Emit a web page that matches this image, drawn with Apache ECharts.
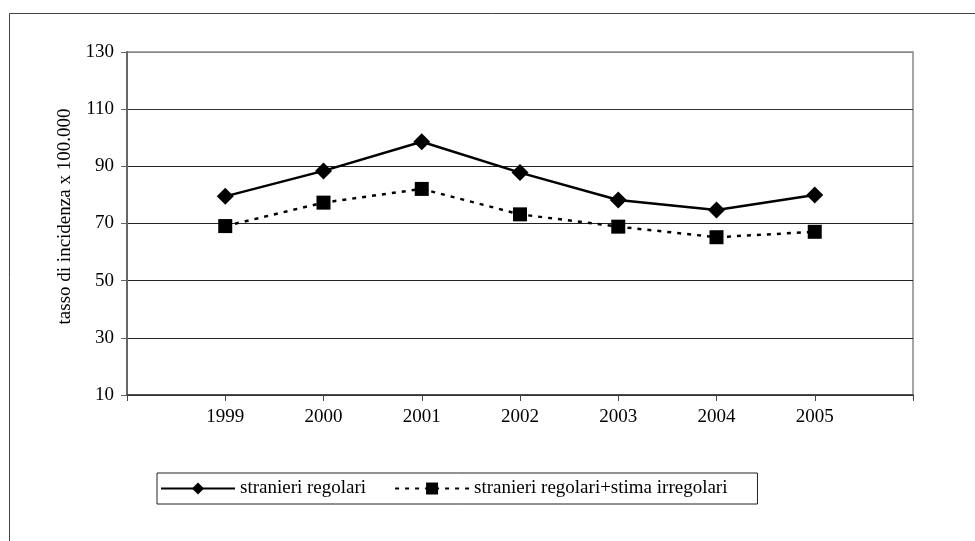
<!DOCTYPE html>
<html>
<head>
<meta charset="utf-8">
<script src="https://cdn.jsdelivr.net/npm/echarts@6/dist/echarts.min.js"></script>
<style>
  html, body { margin: 0; padding: 0; background: #fff; }
  #chart { width: 975px; height: 541px; }
</style>
</head>
<body>
<div id="chart"></div>
<script>
// Anni e tassi di incidenza (x 100.000)
const years = ['1999', '2000', '2001', '2002', '2003', '2004', '2005'];
const regolari = [79.5, 88.4, 98.6, 87.8, 78.2, 74.7, 80.0];
const conIrregolari = [69.1, 77.3, 82.1, 73.2, 68.9, 65.2, 67.1];
const yTicks = [10, 30, 50, 70, 90, 110, 130];
const seriesNames = ['stranieri regolari', 'stranieri regolari+stima irregolari'];

// empty slots at both ends of the category axis
const cats = [''].concat(years, ['']);
const pad = arr => [null].concat(arr, [null]);

const font = 'Liberation Serif, Times New Roman, serif';
const fs = 19;
const chart = echarts.init(document.getElementById('chart'), null, { renderer: 'canvas' });

chart.setOption({
  animation: false,
  backgroundColor: '#fff',
  textStyle: { fontFamily: font, color: '#000' },
  graphic: [{
    type: 'rect',
    shape: { x: 9.5, y: 13.5, width: 1000, height: 560 },
    style: { fill: 'none', stroke: '#444', lineWidth: 1 },
    silent: true
  }],
  grid: {
    left: 127, right: 62, top: 52, bottom: 146,
    show: true, borderColor: '#888', borderWidth: 1.5, backgroundColor: 'transparent'
  },
  legend: {
    left: 157, top: 473,
    padding: [6, 30, 6, 3],
    borderColor: '#222', borderWidth: 1,
    itemWidth: 74, itemHeight: 15, itemGap: 28,
    textStyle: { fontFamily: font, fontSize: fs, color: '#000' },
    data: seriesNames
  },
  xAxis: {
    type: 'category',
    data: cats,
    boundaryGap: false,
    axisLine: { lineStyle: { color: '#333', width: 1.5 } },
    axisTick: { show: true, length: 6, lineStyle: { color: '#444' } },
    axisLabel: { fontFamily: font, fontSize: fs, color: '#000', margin: 13, interval: 0 },
    splitLine: { show: false }
  },
  yAxis: {
    type: 'value',
    min: yTicks[0], max: yTicks[yTicks.length - 1], interval: 20,
    name: 'tasso di incidenza x 100.000',
    nameLocation: 'middle', nameRotate: 90, nameGap: 52,
    nameTextStyle: { fontFamily: font, fontSize: fs, color: '#000', padding: [0, 0, 0, 14] },
    axisLine: { show: true, lineStyle: { color: '#666', width: 2 } },
    axisTick: { show: true, length: 6, lineStyle: { color: '#666' } },
    axisLabel: { fontFamily: font, fontSize: fs, color: '#000', margin: 13 },
    splitLine: {
      show: true,
      lineStyle: { color: ['#333', '#222', '#222', '#222', '#222', '#333', '#888'], width: 1 }
    }
  },
  series: [
    {
      name: seriesNames[0],
      type: 'line',
      data: pad(regolari),
      symbol: 'diamond', symbolSize: 17,
      itemStyle: { color: '#000' },
      lineStyle: { color: '#000', width: 2.5 },
      connectNulls: false
    },
    {
      name: seriesNames[1],
      type: 'line',
      data: pad(conIrregolari),
      symbol: 'rect', symbolSize: 14,
      itemStyle: { color: '#000' },
      lineStyle: { color: '#000', width: 2.5, type: [4, 6] },
      connectNulls: false
    }
  ]
});
</script>
</body>
</html>
